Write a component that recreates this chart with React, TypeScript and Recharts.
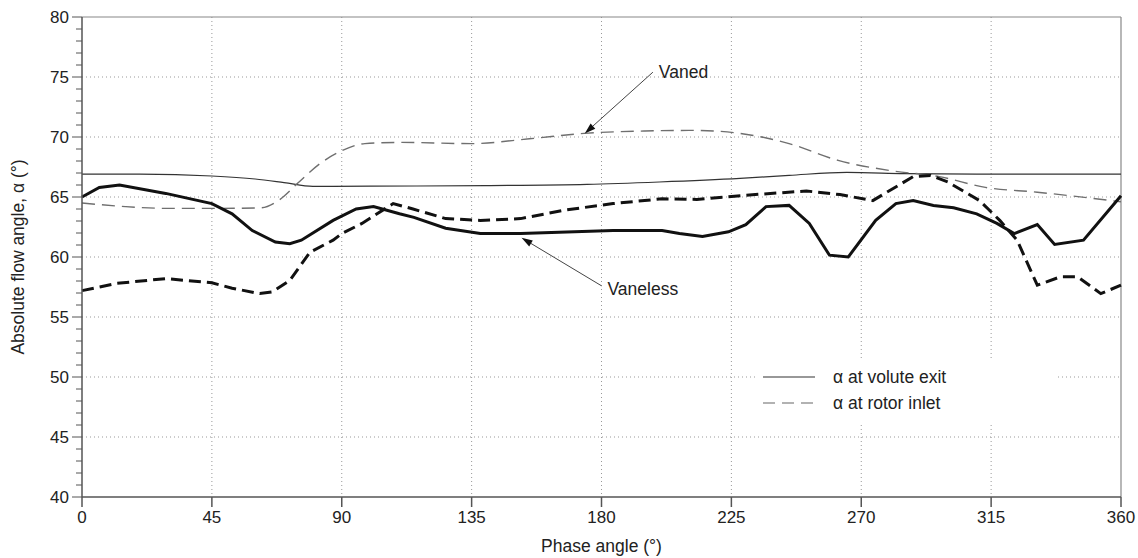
import React from "react";
import {
  LineChart, Line, XAxis, YAxis, CartesianGrid, ReferenceLine, Legend,
} from "recharts";

// Absolute flow angle over one revolution, vaned vs vaneless stator.
// Each curve is sampled at its own phase angles.
const vanedExitPhase = [0, 20, 45, 60, 70, 80, 100, 140, 175, 200, 228, 245, 265, 285, 310, 360];
const vanedExitAngle = [66.9, 66.9, 66.75, 66.5, 66.2, 65.88, 65.9, 65.95, 66.05, 66.25, 66.55, 66.8, 67.05, 66.95, 66.9, 66.9];

const vanedInletPhase = [0, 15, 30, 45, 62, 68, 75, 82, 90, 98, 110, 135, 155, 174, 195, 212, 228, 245, 262, 280, 297, 313, 331, 360];
const vanedInletAngle = [64.5, 64.2, 64.05, 64.05, 64.1, 64.7, 66.2, 67.7, 68.85, 69.45, 69.55, 69.45, 69.85, 70.3, 70.5, 70.55, 70.3, 69.45, 68.05, 67.2, 66.7, 65.8, 65.4, 64.6];

const vanelessExitPhase = [0, 6, 13, 29, 45, 52, 59, 67, 72, 76, 87, 95, 101, 110, 115, 126, 138, 152, 184, 201, 207, 215, 224, 230, 237, 245, 252, 259, 265.5, 275, 282, 288, 295, 302, 310, 317, 323, 331, 337, 347, 360];
const vanelessExitAngle = [65.0, 65.8, 66.0, 65.3, 64.45, 63.6, 62.2, 61.25, 61.1, 61.4, 63.05, 64.0, 64.2, 63.6, 63.3, 62.4, 61.95, 61.95, 62.2, 62.2, 61.95, 61.7, 62.1, 62.7, 64.2, 64.3, 62.8, 60.15, 60.0, 63.05, 64.45, 64.7, 64.3, 64.1, 63.6, 62.8, 61.95, 62.7, 61.05, 61.4, 65.1];

const vanelessInletPhase = [0, 12, 29, 45, 52, 61.6, 66, 72, 79, 87, 90, 97, 107.8, 114.7, 126, 138, 152, 167, 184, 201, 213, 230, 251, 262.6, 274, 288, 294, 300, 311, 318, 324, 331, 339, 345, 353, 360];
const vanelessInletAngle = [57.2, 57.8, 58.2, 57.85, 57.4, 56.95, 57.1, 58.05, 60.4, 61.4, 61.95, 62.8, 64.45, 64.0, 63.2, 63.05, 63.2, 63.9, 64.45, 64.85, 64.8, 65.15, 65.5, 65.2, 64.7, 66.7, 66.8, 66.25, 64.7, 63.05, 61.4, 57.65, 58.35, 58.35, 56.95, 57.65];

const phaseTicks = [0, 45, 90, 135, 180, 225, 270, 315, 360];
const angleMajorTicks = [40, 45, 50, 55, 60, 65, 70, 75, 80];
const angleMinorTicks = Array.from({ length: 41 }, (_, i) => 40 + i);

const legendItems = [
  { label: "α at volute exit", dash: undefined },
  { label: "α at rotor inlet", dash: "12 7" },
];

const toPoints = (phase: number[], angle: number[]) =>
  phase.map((p, i) => ({ phase: p, angle: angle[i] }));

const FONT = "'Liberation Sans', Arial, Helvetica, sans-serif";
const AXIS = "#555";

function AngleTick(props: any) {
  const { x, y, payload } = props;
  const v = payload.value;
  const major = angleMajorTicks.includes(v);
  return (
    <g>
      <line x1={x - (major ? 10 : 6)} y1={y} x2={x} y2={y} stroke={AXIS} strokeWidth={1} />
      {major && (
        <text x={x - 13} y={y} textAnchor="end" dominantBaseline="central"
          fontSize={17} fontFamily={FONT} fill="#222">{v}</text>
      )}
    </g>
  );
}

// arrow from label to curve, label text sits at the tail
const arrowShape = (label: string, dy: number) => (props: any) => {
  const { x1, y1, x2, y2 } = props;
  const ang = Math.atan2(y2 - y1, x2 - x1);
  const len = 11, half = 3.5;
  const bx = x2 - len * Math.cos(ang), by = y2 - len * Math.sin(ang);
  const px = -Math.sin(ang) * half, py = Math.cos(ang) * half;
  return (
    <g>
      <line x1={x1} y1={y1} x2={bx} y2={by} stroke="#444" strokeWidth={1} />
      <polygon points={`${x2},${y2} ${bx + px},${by + py} ${bx - px},${by - py}`} fill="#111" />
      <text x={x1 + 6} y={y1 + dy} dominantBaseline="central" fontSize={17.5}
        fontFamily={FONT} fill="#222">{label}</text>
    </g>
  );
};

function LegendBox() {
  return (
    <div style={{ background: "#fff", width: 303, height: 62, position: "relative", fontFamily: FONT }}>
      {legendItems.map((it, i) => (
        <div key={it.label} style={{ position: "absolute", left: 0, top: 4 + i * 26, height: 26, display: "flex", alignItems: "center" }}>
          <svg width={78} height={26}>
            <line x1={8} y1={13} x2={60} y2={13} stroke={it.dash ? "#999" : "#333"}
              strokeWidth={it.dash ? 1.6 : 1.2} strokeDasharray={it.dash} />
          </svg>
          <span style={{ fontSize: 17.5, color: "#222" }}>{it.label}</span>
        </div>
      ))}
    </div>
  );
}

export default function App() {
  return (
    <div style={{ position: "absolute", left: 0, top: 0, background: "#fff" }}>
      <LineChart width={1138} height={558} margin={{ top: 17, right: 17, bottom: 0, left: 0 }}>
        <CartesianGrid stroke="#999" strokeDasharray="1 3"
          horizontalValues={[45, 50, 55, 60, 65, 70, 75]}
          verticalValues={[45, 90, 135, 180, 225, 270, 315]} />
        <XAxis dataKey="phase" type="number" domain={[0, 360]} ticks={phaseTicks}
          allowDuplicatedCategory={false} height={61} tickSize={10} tickMargin={4}
          stroke={AXIS} strokeWidth={1.5}
          tick={{ fontSize: 17, fontFamily: FONT, fill: "#222" }}
          label={{ value: "Phase angle (°)", position: "insideBottom", offset: 6, fontSize: 17.5, fontFamily: FONT, fill: "#222" }} />
        <YAxis type="number" domain={[40, 80]} ticks={angleMinorTicks} interval={0}
          width={82} tickSize={0} tickMargin={0} tickLine={false}
          stroke={AXIS} strokeWidth={1.5} tick={<AngleTick />}
          label={{ value: "Absolute flow angle, α (°)", angle: -90, position: "insideLeft", offset: 18, fontSize: 17.5, fontFamily: FONT, fill: "#222", style: { textAnchor: "middle" } }} />
        <ReferenceLine y={80} stroke="#888" strokeWidth={1.2} />
        <ReferenceLine x={360} stroke="#888" strokeWidth={1.2} />

        <Line data={toPoints(vanedExitPhase, vanedExitAngle)} dataKey="angle" type="monotone"
          stroke="#333" strokeWidth={1.2} dot={false} isAnimationActive={false} />
        <Line data={toPoints(vanedInletPhase, vanedInletAngle)} dataKey="angle" type="monotone"
          stroke="#6f6f6f" strokeWidth={1.4} strokeDasharray="13 7" dot={false} isAnimationActive={false} />
        <Line data={toPoints(vanelessExitPhase, vanelessExitAngle)} dataKey="angle" type="linear"
          stroke="#111" strokeWidth={3} dot={false} isAnimationActive={false} />
        <Line data={toPoints(vanelessInletPhase, vanelessInletAngle)} dataKey="angle" type="linear"
          stroke="#111" strokeWidth={3} strokeDasharray="12 6" dot={false} isAnimationActive={false} />

        <ReferenceLine segment={[{ x: 197.8, y: 75.4 }, { x: 174.2, y: 70.3 }]}
          shape={arrowShape("Vaned", 0)} />
        <ReferenceLine segment={[{ x: 180, y: 57.6 }, { x: 152.3, y: 61.6 }]}
          shape={arrowShape("Vaneless", 3)} />

        <Legend layout="horizontal" verticalAlign="middle" align="center"
          wrapperStyle={{ left: 755, top: 360, width: 303, height: 62 }}
          content={() => <LegendBox />} />
      </LineChart>
    </div>
  );
}
